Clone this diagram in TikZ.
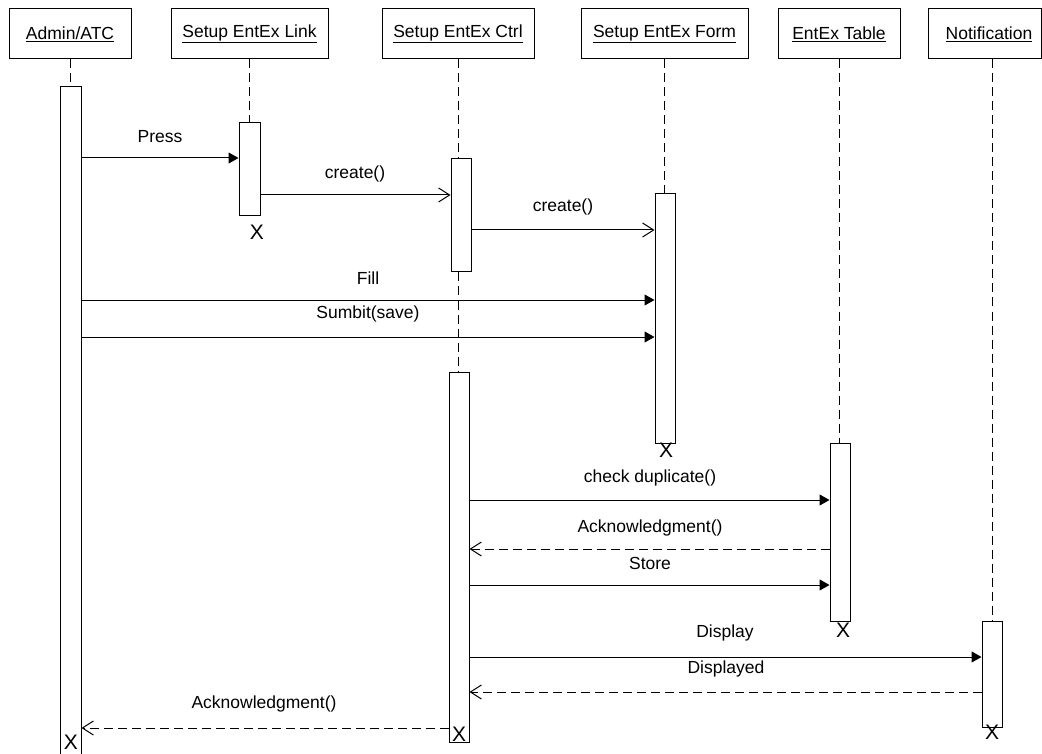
\documentclass[tikz,border=0pt]{standalone}
\usepackage{fontspec}
\setmainfont{Liberation Sans}
\usetikzlibrary{arrows.meta}
\begin{document}
\begin{tikzpicture}[x=1pt,y=-1pt,
  hdr/.style={draw,line width=1pt,minimum height=50pt,inner sep=0pt,font=\fontsize{17.5}{20}\selectfont},
  act/.style={draw,fill=white,line width=1pt,inner sep=0pt},
  life/.style={line width=1pt,dash pattern=on 9pt off 5pt},
  call/.style={line width=1pt,-{Triangle[length=10pt,width=11pt]}},
  crt/.style={line width=1pt,-{Straight Barb[length=11pt,width=14pt]}},
  ret/.style={line width=1pt,dash pattern=on 9pt off 5pt,-{Straight Barb[length=11pt,width=14pt]}},
  lbl/.style={anchor=base,inner sep=0pt,font=\fontsize{17.5}{20}\selectfont},
  kill/.style={inner sep=0pt,font=\fontsize{21}{21}\selectfont}
]
\useasboundingbox[fill=white] (0,0) rectangle (1042,754);

% headers
\node[hdr,minimum width=122pt] (adm) at (70,34) {\underline{Admin/ATC}};
\node[hdr,minimum width=157pt] (lnk) at (249.5,34) {\underline{Setup EntEx Link}};
\node[hdr,minimum width=152pt] (ctl) at (458,34) {\underline{Setup EntEx Ctrl}};
\node[hdr,minimum width=167pt] (frm) at (664.5,34) {\underline{Setup EntEx Form}};
\node[hdr,minimum width=122pt] (tbl) at (839,34) {\underline{EntEx Table}};
\node[hdr,minimum width=113pt] (ntf) at (984.5,34) {\hspace*{9pt}\underline{Notification}};

% activation boxes
\node[act,minimum width=21pt,minimum height=670pt] (a1) at (70.5,422) {};
\node[act,minimum width=21pt,minimum height=93pt] (l1) at (249.5,169.5) {};
\node[act,minimum width=20pt,minimum height=113pt] (c1) at (461,215.5) {};
\node[act,minimum width=20pt,minimum height=249pt] (f1) at (665,318.5) {};
\node[act,minimum width=20pt,minimum height=370pt] (c2) at (459,557) {};
\node[act,minimum width=20pt,minimum height=178pt] (t1) at (840,532) {};
\node[act,minimum width=20pt,minimum height=106pt] (n1) at (992,674) {};

% lifelines
\draw[life] (adm.south) -- (adm.south |- a1.north);
\draw[life] (lnk.south) -- (lnk.south |- l1.north);
\draw[life] (ctl.south) -- (ctl.south |- c1.north);
\draw[life] (ctl.south |- c1.south) -- (ctl.south |- c2.north);
\draw[life] (frm.south) -- (frm.south |- f1.north);
\draw[life] (tbl.south) -- (tbl.south |- t1.north);
\draw[life] (ntf.south -| n1.north) -- (n1.north);

% messages
\draw[call] (a1.east |- 0,158) -- (l1.west |- 0,158);
\node[lbl] (m1) at (160,142.5) {Press};
\draw[crt] (l1.east |- 0,195) -- (c1.west |- 0,195);
\node[lbl] (m2) at (355,179) {create()};
\draw[crt] (c1.east |- 0,230) -- (f1.west |- 0,230);
\node[lbl] (m3) at (563,212) {create()};
\draw[call] (a1.east |- 0,300) -- (f1.west |- 0,300);
\node[lbl] (m4) at (368,285) {Fill};
\draw[call] (a1.east |- 0,337) -- (f1.west |- 0,337);
\node[lbl] (m5) at (368,319) {Sumbit(save)};
\draw[call] (c2.east |- 0,500) -- (t1.west |- 0,500);
\node[lbl] (m6) at (650,482) {check duplicate()};
\draw[ret] (t1.west |- 0,549) -- (c2.east |- 0,549);
\node[lbl] (m7) at (650,532) {Acknowledgment()};
\draw[call] (c2.east |- 0,585) -- (t1.west |- 0,585);
\node[lbl] (m8) at (650,569) {Store};
\draw[call] (c2.east |- 0,657) -- (n1.west |- 0,657);
\node[lbl] (m9) at (725,637) {Display};
\draw[ret] (n1.west |- 0,692) -- (c2.east |- 0,692);
\node[lbl] (m10) at (726,673) {Displayed};
\draw[ret] (c2.west |- 0,728) -- (a1.east |- 0,728);
\node[lbl] (m11) at (264,708.5) {Acknowledgment()};

% destruction marks
\node[kill] (x1) at (257,232) {X};
\node[kill] (x2) at (666,450) {X};
\node[kill] (x3) at (843,630) {X};
\node[kill] (x4) at (992,732) {X};
\node[kill] (x5) at (459,734) {X};
\node[kill] (x6) at (71,742) {X};
\end{tikzpicture}
\end{document}
